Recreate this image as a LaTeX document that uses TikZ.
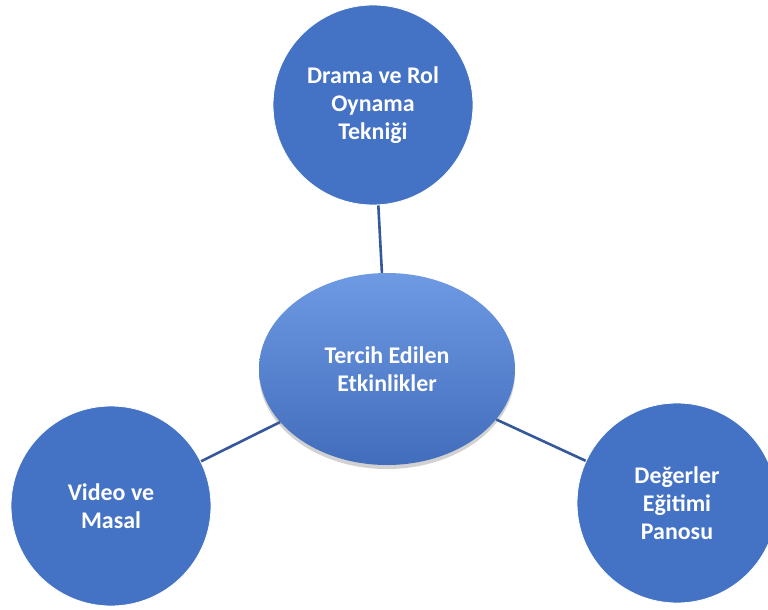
\documentclass[tikz,border=0pt]{standalone}
\usepackage{fontspec}
\setmainfont{Carlito}
\usetikzlibrary{shadows,shapes.geometric,backgrounds}
\definecolor{officeblue}{HTML}{4472C4}
\definecolor{linkblue}{HTML}{34589A}
\definecolor{ctop}{HTML}{6E99E3}
\definecolor{cmid}{HTML}{4977C9}
\definecolor{cbot}{HTML}{416DBC}
\tikzset{
  bubble/.style={circle, fill=officeblue, draw=white, line width=0.8bp,
    minimum size=200bp, inner sep=0pt, align=center, text=white,
    font=\fontsize{24}{28}\selectfont\bfseries},
  hub/.style={ellipse, minimum width=256bp, minimum height=192bp, inner sep=0pt,
    align=center, text=white, top color=ctop, middle color=cmid, bottom color=cbot,
    drop shadow={shadow xshift=0bp, shadow yshift=-4bp, opacity=0.3, fill=black!60},
    font=\fontsize{24}{28}\selectfont\bfseries},
  link/.style={draw=linkblue, line width=2.6bp}
}
\begin{document}
\begin{tikzpicture}[x=1bp,y=-1bp]
\useasboundingbox (0,0) rectangle (768,610);
\node[hub] (hub) at (387,369) {Tercih Edilen\\Etkinlikler};
\node[bubble] (top) at (373,105) {Drama ve Rol\\Oynama\\Tekniği};
\node[bubble] (left) at (111,506) {Video ve\\Masal};
\node[bubble] (right) at (677,503) {Değerler\\Eğitimi\\Panosu};
\begin{scope}[on background layer]
\draw[link] (top) -- (hub);
\draw[link] (left) -- (hub);
\draw[link] (right) -- (hub);
\end{scope}
\end{tikzpicture}
\end{document}
